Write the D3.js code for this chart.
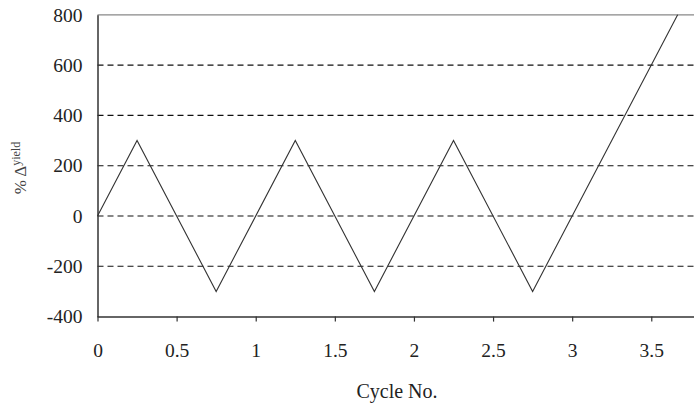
<!DOCTYPE html>
<html>
<head>
<meta charset="utf-8">
<script src="https://cdn.jsdelivr.net/npm/d3@7"></script>
<style>
  html, body { margin: 0; padding: 0; background: #fff; }
  svg { display: block; }
  text { font-family: "Liberation Serif", "Times New Roman", serif; fill: #222; }
</style>
</head>
<body>
<svg id="chart" width="694" height="405"></svg>
<script>
// Loading history: cycle number vs. percent of yield displacement
const cycleNo = [0, 0.25, 0.75, 1.25, 1.75, 2.25, 2.75, 3.6667];
const pctYield = [0, 300, -300, 300, -300, 300, -300, 800];
const xTicks = [0, 0.5, 1, 1.5, 2, 2.5, 3, 3.5];
const yTicks = [-400, -200, 0, 200, 400, 600, 800];
const gridValues = [-200, 0, 200, 400, 600];

const serif = "'Liberation Serif', 'Times New Roman', serif";
const svg = d3.select("#chart");
const plotLeft = 97.5, plotRight = 694, plotTop = 14.8, plotBottom = 316.6;

const x = d3.scaleLinear().domain([0, 3.77]).range([plotLeft, plotRight]);
const y = d3.scaleLinear().domain([-400, 800]).range([plotBottom, plotTop]);

// dashed horizontal grid
svg.append("g").selectAll("line").data(gridValues).join("line")
  .attr("x1", plotLeft).attr("x2", plotRight)
  .attr("y1", d => y(d)).attr("y2", d => y(d))
  .attr("stroke", "#111").attr("stroke-width", 1.1)
  .attr("stroke-dasharray", "6,4");

// top frame line
svg.append("line")
  .attr("x1", plotLeft).attr("x2", plotRight)
  .attr("y1", y(800)).attr("y2", y(800))
  .attr("stroke", "#888").attr("stroke-width", 1.2);

// data line
const line = d3.line().x((d, i) => x(cycleNo[i])).y(d => y(d));
svg.append("path")
  .attr("d", line(pctYield))
  .attr("fill", "none").attr("stroke", "#333").attr("stroke-width", 1.1);

// x axis
const xAxis = svg.append("g").attr("transform", `translate(0,${plotBottom})`)
  .call(d3.axisBottom(x).tickValues(xTicks).tickFormat(d => String(d)).tickSize(5).tickPadding(22))
  .attr("font-family", serif).attr("font-size", 19.5);
xAxis.select(".domain").attr("stroke", "#333").attr("stroke-width", 1.5)
  .attr("d", `M${plotLeft},0.5H${plotRight}`);
xAxis.selectAll(".tick line").attr("stroke", "#333").attr("stroke-width", 1.2);
xAxis.selectAll("text").attr("fill", "#222");

// y axis
const yAxis = svg.append("g").attr("transform", `translate(${plotLeft},0)`)
  .call(d3.axisLeft(y).tickValues(yTicks).tickFormat(d => String(d)).tickSize(0).tickPadding(15))
  .attr("font-family", serif).attr("font-size", 19.5);
yAxis.select(".domain").attr("stroke", "#333").attr("stroke-width", 1.5);
yAxis.selectAll("text").attr("fill", "#222");

// axis titles
svg.append("text")
  .attr("x", 397).attr("y", 398)
  .attr("text-anchor", "middle").attr("font-size", 20)
  .text("Cycle No.");

const yTitle = svg.append("text")
  .attr("transform", "translate(25.5,168) rotate(-90)")
  .attr("text-anchor", "middle").attr("font-size", 17)
  .style("fill", "#444");
yTitle.append("tspan").text("% Δ");
yTitle.append("tspan").attr("font-size", 12).attr("dy", -6).text("yield");
</script>
</body>
</html>
